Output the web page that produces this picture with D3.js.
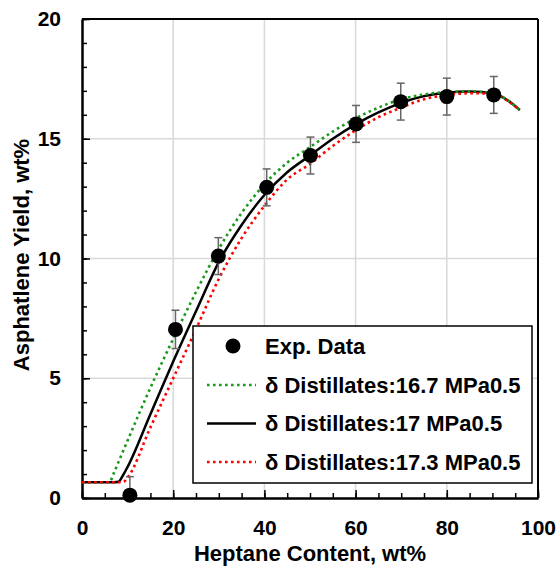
<!DOCTYPE html>
<html><head><meta charset="utf-8">
<script src="https://cdn.jsdelivr.net/npm/d3@7"></script>
<style>
html,body{margin:0;padding:0;background:#fff;}
svg text{font-family:"Liberation Sans",Arial,sans-serif;font-weight:bold;}
</style></head>
<body><svg id="chart" width="560" height="567"></svg>
<script>
// ---- data ----
const curveX = [0, 6, 7, 8, 9, 10, 15, 20, 25, 30, 35, 40, 45, 50, 55, 60, 65, 70, 75, 80, 85, 90, 93, 96];
const yDelta167 = [0.66, 0.66, 1.05, 1.5, 1.95, 2.4, 4.6, 6.65, 8.6, 10.4, 11.9, 13.1, 14.0, 14.65, 15.3, 15.85, 16.3, 16.65, 16.85, 16.95, 16.98, 16.9, 16.66, 16.2];
const yDelta170 = [0.66, 0.66, 0.66, 0.68, 0.95, 1.3, 3.5, 5.7, 7.8, 9.85, 11.4, 12.65, 13.6, 14.3, 15.0, 15.6, 16.1, 16.5, 16.78, 16.92, 16.97, 16.9, 16.65, 16.2];
const yDelta173 = [0.66, 0.66, 0.66, 0.66, 0.66, 0.85, 2.95, 5.0, 7.05, 9.15, 10.85, 12.2, 13.3, 13.95, 14.7, 15.35, 15.9, 16.3, 16.65, 16.82, 16.9, 16.88, 16.62, 16.2];
const expX = [10.5, 20.5, 29.9, 40.5, 50.1, 60.1, 69.9, 80.0, 90.3];
const expY = [0.12, 7.04, 10.1, 12.97, 14.3, 15.62, 16.55, 16.76, 16.83];
const expErr = [0.77, 0.8, 0.77, 0.77, 0.77, 0.77, 0.77, 0.77, 0.77];
const xTicks = [0, 20, 40, 60, 80, 100];
const yTicks = [0, 5, 10, 15, 20];
const legendLabels = ["Exp. Data", "δ Distillates:16.7 MPa0.5", "δ Distillates:17 MPa0.5", "δ Distillates:17.3 MPa0.5"];

// ---- layout ----
const svg = d3.select("#chart");
const L = 82, T = 19, R = 538, B = 498;
const x = d3.scaleLinear().domain([0, 100]).range([L, R]);
const y = d3.scaleLinear().domain([0, 20]).range([B, T]);

// grid
svg.append("g").selectAll("line").data(xTicks.filter(d => d > 0 && d < 100)).join("line")
  .attr("x1", d => x(d)).attr("x2", d => x(d)).attr("y1", T).attr("y2", B)
  .attr("stroke", "#d9d9d9").attr("stroke-width", 1.5);
svg.append("g").selectAll("line").data(yTicks.filter(d => d > 0 && d < 20)).join("line")
  .attr("y1", d => y(d)).attr("y2", d => y(d)).attr("x1", L).attr("x2", R)
  .attr("stroke", "#d9d9d9").attr("stroke-width", 1.5);

// axes with inner ticks
const xMinor = d3.range(0, 101, 5);
const yMinor = d3.range(0, 21, 1);
const gx = svg.append("g").attr("transform", `translate(0,${B})`)
  .call(d3.axisBottom(x).tickValues(xMinor).tickSizeInner(-5).tickSizeOuter(0).tickFormat(""));
const gx2 = svg.append("g").attr("transform", `translate(0,${B})`)
  .call(d3.axisBottom(x).tickValues(xTicks).tickSizeInner(-8).tickSizeOuter(0).tickPadding(22));
const gy = svg.append("g").attr("transform", `translate(${L},0)`)
  .call(d3.axisLeft(y).tickValues(yMinor).tickSizeInner(-5).tickSizeOuter(0).tickFormat(""));
const gy2 = svg.append("g").attr("transform", `translate(${L},0)`)
  .call(d3.axisLeft(y).tickValues(yTicks).tickSizeInner(-8).tickSizeOuter(0).tickPadding(21));
[gx, gx2, gy, gy2].forEach(g => {
  g.selectAll(".domain").attr("stroke", "#000").attr("stroke-width", 2);
  g.selectAll(".tick line").attr("stroke", "#000").attr("stroke-width", 1.5);
  g.selectAll("text").attr("fill", "#000").style("font-size", "21px")
   .style("font-family", "'Liberation Sans', Arial, sans-serif").style("font-weight", "bold");
});
// plot border top/right
svg.append("line").attr("x1", L).attr("x2", R).attr("y1", T).attr("y2", T).attr("stroke", "#000").attr("stroke-width", 2);
svg.append("line").attr("x1", R).attr("x2", R).attr("y1", T).attr("y2", B).attr("stroke", "#000").attr("stroke-width", 2);

// curves
const line = d3.line().x(d => x(d[0])).y(d => y(d[1])).curve(d3.curveMonotoneX);
const series = [
  {vals: yDelta167, color: "#1a9a1a", dash: "2.6,3.4", width: 2.6},
  {vals: yDelta170, color: "#000000", dash: null, width: 2.5},
  {vals: yDelta173, color: "#ff0000", dash: "2.6,3.4", width: 2.6}
];
const drawOrder = [1, 0, 2];
drawOrder.forEach(i => {
  const s = series[i];
  svg.append("path").datum(curveX.map((cx, k) => [cx, s.vals[k]]))
    .attr("d", line).attr("fill", "none").attr("stroke", s.color)
    .attr("stroke-width", s.width).attr("stroke-dasharray", s.dash);
});

// error bars
const eb = svg.append("g").attr("stroke", "#666").attr("stroke-width", 1.5);
expX.forEach((ex, i) => {
  const top = y(expY[i] + expErr[i]), bot = y(Math.max(0, expY[i] - expErr[i]));
  eb.append("line").attr("x1", x(ex)).attr("x2", x(ex)).attr("y1", top).attr("y2", bot);
  eb.append("line").attr("x1", x(ex) - 4).attr("x2", x(ex) + 4).attr("y1", top).attr("y2", top);
  if (expY[i] - expErr[i] > 0)
    eb.append("line").attr("x1", x(ex) - 4).attr("x2", x(ex) + 4).attr("y1", bot).attr("y2", bot);
});
// markers
svg.append("g").selectAll("circle").data(expX).join("circle")
  .attr("cx", d => x(d)).attr("cy", (d, i) => y(expY[i])).attr("r", 7.5).attr("fill", "#000");

// axis titles
svg.append("text").attr("x", (L + R) / 2).attr("y", 561).attr("text-anchor", "middle")
  .style("font-size", "22px").text("Heptane Content, wt%");
svg.append("text").attr("transform", `translate(29,255) rotate(-90)`).attr("text-anchor", "middle")
  .style("font-size", "22px").text("Asphatlene Yield, wt%");

// legend
const lg = svg.append("g");
lg.append("rect").attr("x", 193).attr("y", 326).attr("width", 339).attr("height", 157)
  .attr("fill", "#fff").attr("stroke", "#000").attr("stroke-width", 1.5);
const rowY = [346, 385, 423.5, 462];
lg.append("circle").attr("cx", 233).attr("cy", rowY[0]).attr("r", 7.5).attr("fill", "#000");
[0, 1, 2].forEach(i => {
  const s = series[i];
  lg.append("line").attr("x1", 207).attr("x2", 256).attr("y1", rowY[i + 1]).attr("y2", rowY[i + 1])
    .attr("stroke", s.color).attr("stroke-width", s.width).attr("stroke-dasharray", s.dash);
});
legendLabels.forEach((t, i) => {
  lg.append("text").attr("x", 265).attr("y", rowY[i]).attr("dy", "0.36em")
    .style("font-size", "22px").text(t);
});
</script></body></html>
